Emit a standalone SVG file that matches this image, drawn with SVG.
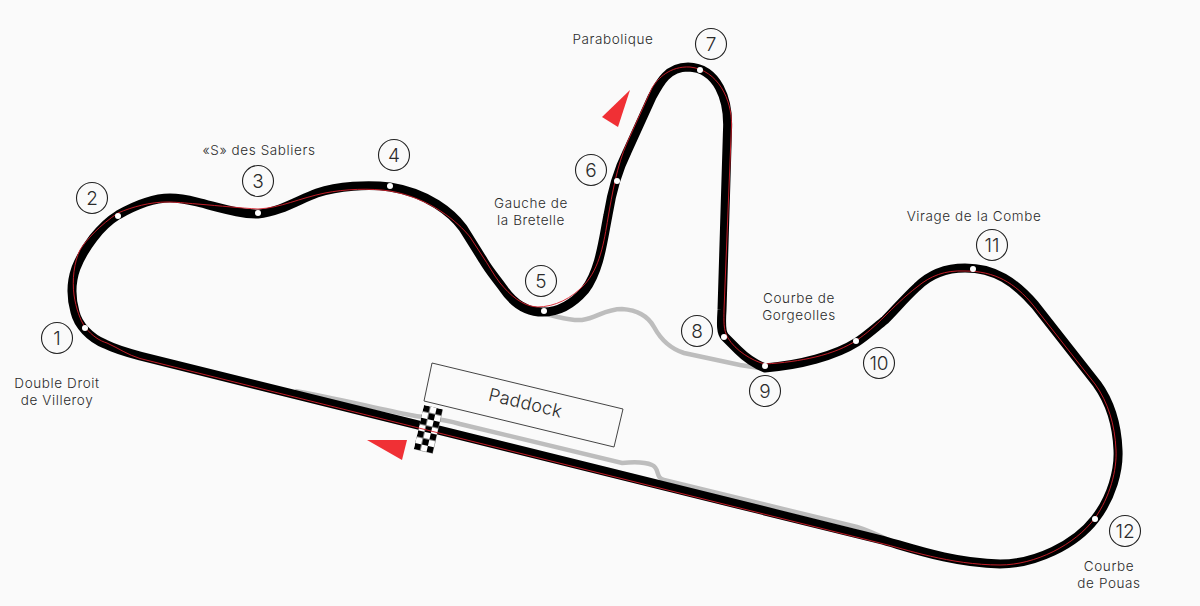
<svg xmlns="http://www.w3.org/2000/svg" width="1200" height="606" viewBox="0 0 1200 606">
<style>
text{font-family:"Inter","Liberation Sans",sans-serif;font-weight:300;fill:#2b2b2b;font-size:13.5px;letter-spacing:.6px;text-anchor:middle}
.num{font-size:19px;letter-spacing:0}
.c{fill:none;stroke:#222;stroke-width:1.1}
.dot{fill:#fff}
.track{fill:none;stroke:#000;stroke-width:9;stroke-linejoin:round}
.red{fill:none;stroke:#d8202c;stroke-width:.9}
.pit{fill:none;stroke:#bdbdbd;stroke-width:4.500}
</style>
<defs>
<pattern id="chk" width="13" height="13" patternUnits="userSpaceOnUse">
<rect width="13" height="13" fill="#000"/>
<rect x="6.500" width="6.500" height="6.500" fill="#fff"/>
<rect y="6.500" width="6.500" height="6.500" fill="#fff"/>
</pattern>
</defs>
<rect width="1200" height="606" fill="#fafafa"/>
<g id="connectors">
<path class="pit" d="M545 314C560 317 570 321 582 320C597 318 605 309 622 309C638 310 648 316 654 327C660 338 668 348 684 353L740 365L765 369"/>
<path class="pit" d="M295 391C330 397 375 408 410 415C425 418 440 418 460 424L622 463C632 462 645 462 652 465C660 468 655 478 664 480L857 527C870 531 880 536 895 543"/>
<path class="track" d="M140 356L880 539.500C905 546 950 563 1000 564C1035 564 1075 545 1095 519C1112 497 1119 470 1118 450C1117 425 1110 402 1097 384L1035 305C1015 282 995 268 965 268C945 268 930 274 917 287C905 298 895 310 885 320C875 328 866 336 857 342C835 356 800 365 765 368C755 364 745 357 738 350L725 337C721 333 721 325 722 310L727.500 130C729 100 718 68 688 67C668 67 660 82 652 97L627 152C618 170 612 190 608 215C603 240 600 270 585 290C572 305 558 312 543 312C527 312 513 303 503 288C496 278 490 272 483 260L463 228C452 213 428 193 390 187C368 184 338 186 317 193C300 199 280 212 258 214C240 214 225 209 197 202C185 199 178 198 170 198C150 198 132 207 118 215C100 226 84 248 76 268C71 282 71 298 75 312C78 325 90 338 105 344C115 349 125 352 140 356Z"/>
</g>
<g id="start-line"><rect x="0" y="0" width="19.500" height="45.500" fill="url(#chk)" transform="translate(424 405) rotate(13)"/></g>
<g id="racing-line">
<path class="red" d="M140 358.500L880 543C905 549 950 565 1000 565C1035 565 1075 545 1095 518C1110 497 1117 470 1116 450C1115 425 1108 402 1095 384L1033 305C1015 283 995 271 965 271C945 270 930 276 917 287C905 296 893 308 885 316C875 326 866 334 857 340C835 355 800 362 765 364C752 361 735 350 728 338C723 330 724 320 724 310L731.500 125C732 100 718 70 690 67C670 66 658 78 652 88L627 143C617 165 612 195 608 218C604 242 600 268 584 285C572 298 555 307 537 307C522 306 510 295 500 283C493 274 488 264 483 257L470 237C458 222 430 198 390 191C370 188 345 189 325 193C300 198 280 208 258 209C240 208 222 206 197 204C185 203 175 202 167 202C150 202 132 207 118 213C100 225 86 240 80 250C74 262 72 280 74 295C76 308 80 320 85 327C92 336 100 341 107 343C118 348 128 355 140 358.500Z"/>
</g>
<g id="paddock"><polygon points="432,363 623,409 614,447 424,401" fill="none" stroke="#444" stroke-width="1"/><text transform="translate(524 409) rotate(13.5)" style="font-size:18px;letter-spacing:.3px">Paddock</text></g>
<g id="flags"><polygon points="367,440 407,440 402,460" fill="#f03035"/><polygon points="630,90 602,117 618,127" fill="#f03035"/></g>
<g id="t1"><circle class="dot" cx="85" cy="328" r="3"/><circle class="c" cx="57" cy="338" r="15.500"/><text class="num" x="57" y="345">1</text><text x="57" y="388">Double Droit</text><text x="57" y="405">de Villeroy</text></g>
<g id="t2"><circle class="dot" cx="118" cy="216" r="3"/><circle class="c" cx="92" cy="198" r="15.500"/><text class="num" x="92" y="205">2</text></g>
<g id="t3"><circle class="dot" cx="258" cy="213" r="3"/><circle class="c" cx="258" cy="181" r="15.500"/><text class="num" x="258" y="188">3</text><text x="259" y="155">«S» des Sabliers</text></g>
<g id="t4"><circle class="dot" cx="390" cy="186" r="3"/><circle class="c" cx="394" cy="155" r="15.500"/><text class="num" x="394" y="162">4</text></g>
<g id="t5"><circle class="dot" cx="544" cy="311" r="3"/><circle class="c" cx="541" cy="281" r="15.500"/><text class="num" x="541" y="288">5</text><text x="531" y="208">Gauche de</text><text x="531" y="225">la Bretelle</text></g>
<g id="t6"><circle class="dot" cx="617" cy="181" r="3"/><circle class="c" cx="591" cy="170" r="15.500"/><text class="num" x="591" y="177">6</text></g>
<g id="t7"><circle class="dot" cx="700" cy="70" r="3"/><circle class="c" cx="711" cy="44" r="15.500"/><text class="num" x="711" y="51">7</text><text x="613" y="44">Parabolique</text></g>
<g id="t8"><circle class="dot" cx="724" cy="337" r="3"/><circle class="c" cx="697" cy="331" r="15.500"/><text class="num" x="697" y="338">8</text></g>
<g id="t9"><circle class="dot" cx="765" cy="366" r="3"/><circle class="c" cx="765" cy="391" r="15.500"/><text class="num" x="765" y="398">9</text></g>
<g id="t10"><circle class="dot" cx="856" cy="341" r="3"/><circle class="c" cx="879" cy="363" r="15.500"/><text class="num" x="879" y="370">10</text><text x="799" y="303">Courbe de</text><text x="799" y="320">Gorgeolles</text></g>
<g id="t11"><circle class="dot" cx="973" cy="269" r="3"/><circle class="c" cx="992" cy="245" r="15.500"/><text class="num" x="992" y="252">11</text><text x="974" y="221">Virage de la Combe</text></g>
<g id="t12"><circle class="dot" cx="1095" cy="519" r="3"/><circle class="c" cx="1125" cy="531" r="15.500"/><text class="num" x="1125" y="538">12</text><text x="1109" y="571">Courbe</text><text x="1109" y="588">de Pouas</text></g>
</svg>
